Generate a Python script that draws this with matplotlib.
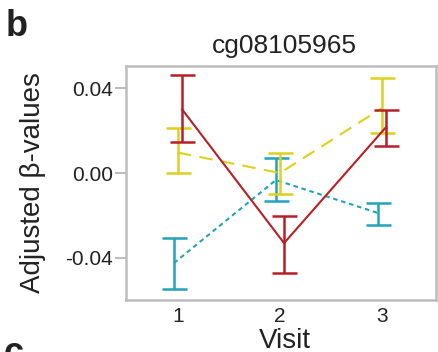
import matplotlib
matplotlib.use('Agg')
import matplotlib.pyplot as plt
import numpy as np

plt.rcParams['font.family'] = ['Liberation Sans', 'DejaVu Sans']

# 三组的均值和误差范围
visits = [1, 2, 3]
groups = ['teal', 'yellow', 'red']
colors = {'teal': '#23A3B9', 'yellow': '#DDD01E', 'red': '#B71F27'}
styles = {'teal': (0, (2.2, 1.8)), 'yellow': (0, (6.5, 4)), 'red': '-'}
dodge = {'teal': -0.04, 'yellow': 0.0, 'red': 0.04}

mean_teal = [-0.0424, -0.0033, -0.0188]
lo_teal = [-0.0546, -0.0132, -0.0245]
hi_teal = [-0.0306, 0.0071, -0.0141]

mean_yellow = [0.0096, 0.0000, 0.0306]
lo_yellow = [0.0000, -0.0099, 0.0188]
hi_yellow = [0.0212, 0.0094, 0.0447]

mean_red = [0.0300, -0.0330, 0.0216]
lo_red = [0.0146, -0.0471, 0.0127]
hi_red = [0.0461, -0.0202, 0.0296]

data = {
    'teal': (mean_teal, lo_teal, hi_teal),
    'yellow': (mean_yellow, lo_yellow, hi_yellow),
    'red': (mean_red, lo_red, hi_red),
}

fig = plt.figure(figsize=(4.38, 3.52), dpi=100)
ax = fig.add_axes([0.2877, 0.1477, 0.7077, 0.6648])

for g in groups:
    m, lo, hi = [np.array(v) for v in data[g]]
    x = np.array(visits) + dodge[g]
    ax.errorbar(x, m, yerr=[m - lo, hi - m], fmt='none', ecolor=colors[g],
                elinewidth=1.8, capsize=9, capthick=1.8)
    ax.plot(x, m, color=colors[g], lw=1.5, linestyle=styles[g])

ax.set_xlim(0.49, 3.53)
ax.set_ylim(-0.0598, 0.0504)
ax.set_xticks(visits)
ax.set_xticklabels(['1', '2', '3'])
ax.set_yticks([-0.04, 0.0, 0.04])
ax.set_yticklabels(['-0.04', '0.00', '0.04'])
ax.tick_params(axis='x', length=0, labelsize=15, pad=5, colors='#222222')
ax.tick_params(axis='y', length=8, width=1.5, color='#BDBDBD', labelsize=15,
               pad=1.5, labelcolor='#222222')
for s in ax.spines.values():
    s.set_color('#BDBDBD')
    s.set_linewidth(1.8)

ax.set_title('cg08105965', fontsize=19, pad=9, color='#222222', x=0.512)
ax.set_xlabel('Visit', fontsize=20, color='#222222')
ax.xaxis.set_label_coords(0.512, -0.118)
ax.set_ylabel('Adjusted β-values', fontsize=20, labelpad=14, color='#222222')

fig.text(0.012, 0.975, 'b', fontsize=26, fontweight='bold', va='top', color='#222222')
fig.text(0.008, -0.055, 'c', fontsize=26, fontweight='bold', va='bottom', color='#222222')

fig.savefig('out.png', dpi=100)
